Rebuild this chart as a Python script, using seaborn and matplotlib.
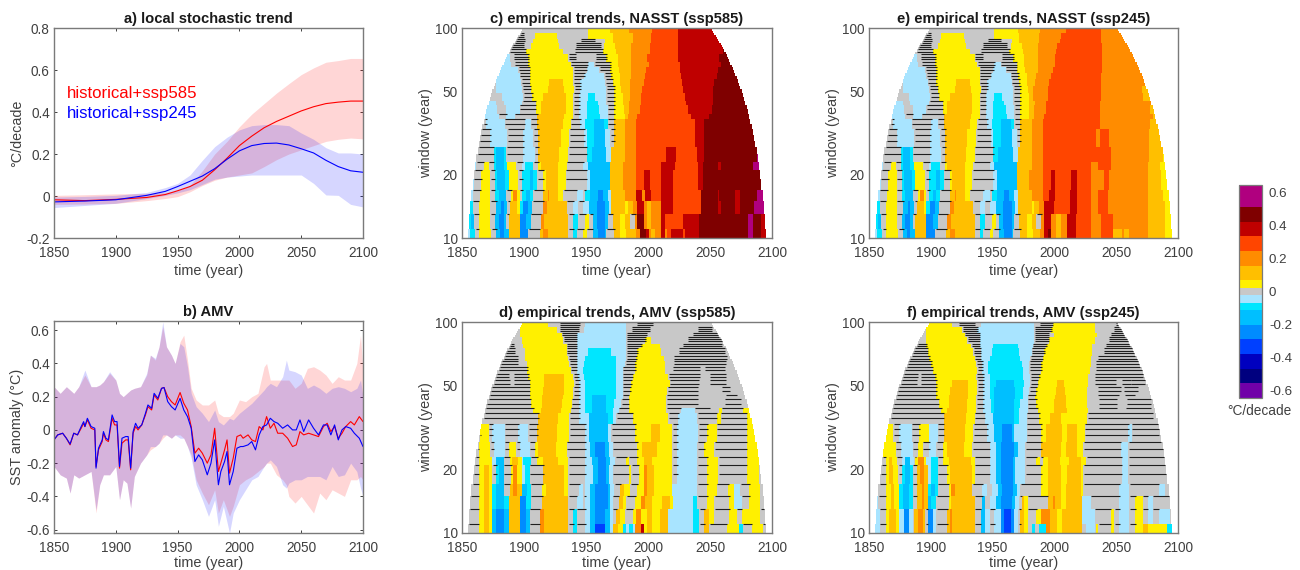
import numpy as np
import matplotlib
matplotlib.use("Agg")
import matplotlib.pyplot as plt
import matplotlib.ticker as mticker
from matplotlib.colors import BoundaryNorm, ListedColormap
import seaborn as sns

# panel a: local stochastic trend
trend_years = [1850, 1875, 1900, 1925, 1940, 1950, 1960, 1970, 1980, 1990, 2000, 2010, 2020, 2030, 2040, 2050, 2060, 2070, 2080, 2090, 2100]
trend_585 = [-0.018, -0.022, -0.016, -0.007, 0.007, 0.025, 0.045, 0.075, 0.125, 0.18, 0.24, 0.285, 0.325, 0.355, 0.38, 0.405, 0.425, 0.44, 0.447, 0.452, 0.452]
trend_245 = [-0.028, -0.024, -0.018, 0.003, 0.022, 0.045, 0.07, 0.095, 0.13, 0.175, 0.215, 0.24, 0.25, 0.252, 0.243, 0.225, 0.205, 0.17, 0.14, 0.12, 0.113]
trend_585_hi = [0.003, 0.006, 0.01, 0.012, 0.016, 0.025, 0.05, 0.12, 0.2, 0.26, 0.33, 0.39, 0.44, 0.49, 0.535, 0.578, 0.61, 0.637, 0.645, 0.655, 0.655]
trend_585_lo = [-0.04, -0.038, -0.035, -0.022, -0.012, -0.003, 0.02, 0.05, 0.075, 0.09, 0.1, 0.11, 0.14, 0.173, 0.2, 0.22, 0.24, 0.26, 0.27, 0.276, 0.272]
trend_245_hi = [-0.005, -0.002, 0.003, 0.017, 0.04, 0.06, 0.1, 0.17, 0.235, 0.28, 0.315, 0.335, 0.34, 0.34, 0.335, 0.3, 0.27, 0.23, 0.205, 0.205, 0.2]
trend_245_lo = [-0.055, -0.045, -0.035, -0.012, 0.003, 0.015, 0.03, 0.055, 0.08, 0.09, 0.095, 0.1, 0.1, 0.1, 0.1, 0.1, 0.06, 0.005, 0.003, -0.04, -0.052]

# panel b: AMV means
amv_years = [1850, 1853, 1857, 1860, 1863, 1866, 1869, 1872, 1874, 1875, 1877, 1880, 1883, 1884, 1886, 1889, 1890, 1892, 1894, 1897, 1899, 1901, 1903, 1905, 1908, 1910, 1912, 1914, 1916, 1918, 1921, 1924, 1926, 1929, 1931, 1934, 1937, 1939, 1942, 1945, 1948, 1952, 1955, 1958, 1961, 1964, 1967, 1970, 1974, 1977, 1980, 1983, 1985, 1988, 1990, 1992, 1995, 1998, 2001, 2003, 2007, 2010, 2013, 2016, 2019, 2022, 2025, 2028, 2031, 2035, 2039, 2043, 2046, 2049, 2052, 2056, 2060, 2064, 2068, 2071, 2074, 2077, 2080, 2083, 2086, 2090, 2093, 2097, 2100]
amv_585 = [-0.06, -0.03, -0.02, -0.05, -0.09, -0.02, -0.03, 0.01, 0.04, 0.02, 0.06, 0.01, 0.0, -0.22, -0.12, -0.07, -0.02, -0.06, -0.07, 0.07, 0.03, 0.03, -0.23, -0.08, -0.06, -0.06, -0.24, -0.02, 0.02, 0.0, 0.03, 0.09, 0.14, 0.12, 0.21, 0.18, 0.25, 0.255, 0.2, 0.17, 0.15, 0.225, 0.16, 0.12, 0.02, -0.14, -0.11, -0.14, -0.2, -0.15, 0.01, -0.25, -0.2, -0.12, -0.06, -0.26, -0.17, -0.04, -0.03, -0.05, -0.03, -0.06, -0.07, 0.02, 0.0, 0.08, 0.01, 0.04, -0.02, -0.02, -0.05, -0.1, -0.09, -0.01, -0.03, -0.02, -0.03, -0.04, 0.02, 0.04, -0.01, 0.02, -0.05, -0.02, 0.02, 0.05, 0.03, 0.08, 0.05]
amv_245 = [-0.06, -0.03, -0.02, -0.05, -0.085, -0.02, -0.03, 0.02, 0.05, 0.02, 0.07, 0.02, 0.01, -0.23, -0.11, -0.06, -0.01, -0.05, -0.06, 0.09, 0.05, 0.05, -0.22, -0.05, -0.04, -0.04, -0.23, -0.01, 0.04, 0.01, 0.03, 0.1, 0.15, 0.13, 0.22, 0.19, 0.25, 0.255, 0.17, 0.14, 0.12, 0.19, 0.12, 0.08, 0.01, -0.19, -0.15, -0.18, -0.27, -0.2, -0.06, -0.33, -0.25, -0.19, -0.13, -0.33, -0.25, -0.11, -0.1, -0.1, -0.09, -0.07, -0.12, -0.03, 0.02, 0.03, 0.07, 0.05, 0.04, 0.01, 0.03, 0.0, 0.0, 0.06, -0.01, 0.06, 0.01, -0.03, 0.03, 0.03, -0.03, 0.03, -0.06, 0.0, 0.02, 0.01, -0.02, -0.05, -0.1]

# panel b: AMV spread
spread_years = [1850, 1855, 1860, 1863, 1866, 1870, 1875, 1880, 1884, 1887, 1890, 1895, 1900, 1903, 1906, 1909, 1912, 1915, 1920, 1925, 1928, 1932, 1935, 1938, 1941, 1945, 1948, 1952, 1955, 1958, 1961, 1965, 1970, 1975, 1980, 1983, 1987, 1992, 1995, 2000, 2005, 2010, 2015, 2020, 2022, 2025, 2030, 2035, 2038, 2040, 2045, 2050, 2055, 2060, 2065, 2070, 2075, 2080, 2085, 2090, 2095, 2098, 2100]
spread_585_hi = [0.26, 0.22, 0.26, 0.24, 0.22, 0.26, 0.33, 0.26, 0.26, 0.27, 0.29, 0.34, 0.3, 0.22, 0.2, 0.22, 0.24, 0.25, 0.26, 0.33, 0.45, 0.42, 0.5, 0.62, 0.5, 0.45, 0.4, 0.53, 0.57, 0.42, 0.25, 0.18, 0.15, 0.15, 0.18, 0.1, 0.08, 0.08, 0.1, 0.18, 0.17, 0.2, 0.22, 0.38, 0.4, 0.3, 0.3, 0.3, 0.3, 0.3, 0.25, 0.28, 0.37, 0.38, 0.36, 0.33, 0.28, 0.32, 0.3, 0.3, 0.4, 0.57, 0.35]
spread_585_lo = [-0.22, -0.27, -0.29, -0.38, -0.27, -0.29, -0.27, -0.25, -0.5, -0.33, -0.27, -0.27, -0.22, -0.42, -0.3, -0.32, -0.47, -0.28, -0.2, -0.15, -0.12, -0.1, -0.08, -0.05, -0.03, -0.05, -0.03, -0.03, -0.05, -0.1, -0.15, -0.3, -0.38, -0.45, -0.36, -0.5, -0.42, -0.52, -0.46, -0.33, -0.3, -0.28, -0.25, -0.22, -0.2, -0.2, -0.27, -0.3, -0.33, -0.4, -0.44, -0.4, -0.45, -0.5, -0.38, -0.42, -0.36, -0.38, -0.4, -0.3, -0.3, -0.28, -0.3]
spread_245_hi = [0.26, 0.22, 0.26, 0.24, 0.22, 0.26, 0.36, 0.26, 0.26, 0.27, 0.29, 0.35, 0.3, 0.22, 0.2, 0.22, 0.24, 0.25, 0.26, 0.34, 0.45, 0.43, 0.5, 0.65, 0.5, 0.45, 0.4, 0.52, 0.5, 0.38, 0.22, 0.14, 0.1, 0.05, 0.12, 0.05, 0.03, 0.07, 0.06, 0.1, 0.13, 0.16, 0.2, 0.24, 0.26, 0.28, 0.26, 0.32, 0.42, 0.36, 0.35, 0.33, 0.25, 0.27, 0.25, 0.22, 0.25, 0.26, 0.25, 0.23, 0.25, 0.3, 0.2]
spread_245_lo = [-0.22, -0.27, -0.29, -0.38, -0.27, -0.29, -0.27, -0.25, -0.48, -0.33, -0.27, -0.27, -0.22, -0.42, -0.3, -0.32, -0.47, -0.28, -0.2, -0.15, -0.1, -0.1, -0.08, -0.03, -0.03, -0.05, -0.03, -0.05, -0.05, -0.1, -0.17, -0.33, -0.42, -0.52, -0.42, -0.58, -0.46, -0.62, -0.5, -0.42, -0.36, -0.3, -0.28, -0.22, -0.2, -0.18, -0.22, -0.33, -0.35, -0.32, -0.3, -0.3, -0.28, -0.28, -0.28, -0.3, -0.22, -0.28, -0.27, -0.2, -0.25, -0.35, -0.4]

# colour levels
level_edges = [-0.644, -0.556, -0.467, -0.378, -0.289, -0.2, -0.111, -0.067, -0.022, 0.022, 0.067, 0.156, 0.244, 0.333, 0.422, 0.511, 0.644]
level_colors = ["#7000A8", "#00007F", "#0000BF", "#0040FF", "#008CFF", "#00BFFF", "#00E6FF", "#A8E4FF",
                "#C8C8C8", "#FFF000", "#FFBF00", "#FF8C00", "#FF4500", "#BF0000", "#7F0000", "#B0007F"]
level_codes = "pNnbzscl" + "gyaorRDM"
level_values = [-0.6, -0.51, -0.42, -0.33, -0.245, -0.155, -0.09, -0.045, 0.0, 0.045, 0.11, 0.2, 0.29, 0.38, 0.465, 0.58]

# each row holds runs of level code + end year, * = not significant, and
# applies from its window length up to the next one
row_windows = [10, 12, 14, 16, 18, 21, 24, 28, 33, 37, 40, 43, 46, 50, 53, 57, 61, 65, 70, 75, 80, 85, 90, 95]

nasst_585 = [
    "l1857 c1861 g1864* y1874 g1878* s1881 z1884 s1888 a1897 z1904 g1913* a1916 o1920 a1936 g1940* c1943 g1948* y1951 g1956* s1960 z1966 s1967 g1973* a1978 y1983 a1991 o1994 D1999 R2001 o2003 a2006 o2011 R2014 o2016 r2019 R2029 r2030 R2042 D2081 M2085 D2092 R2100",
    "c1858 s1860 g1864* y1873 g1877* s1880 z1884 s1886 g1888* a1897 z1902 s1906 g1914* o1917 a1936 g1940* c1944 g1950* y1953 g1956* s1959 z1966 s1968 g1972* a1978 y1982 a1986 g1990* o1992 D1997 o2000 a2003 o2011 R2014 r2029 R2042 D2081 M2085 D2092 R2100",
    "c1859 g1864* y1873 g1878* s1882 z1884 s1887 g1889* a1895 y1897 c1900 z1904 s1907 g1916* o1919 a1935 g1940* l1944 g1948* l1953 s1959 z1966 s1969 l1971 a1982 y1984 a1988 o1992 R1997 o2000 a2003 o2011 R2021 r2043 D2057 R2059 D2071 R2075 D2086 M2094 D2100",
    "l1859 g1865* y1873 g1877* c1880 s1886 g1890* y1892 o1895 y1897 g1899* c1902 s1905 c1908 g1916* a1920 o1921 a1928 y1932 g1943* l1948 g1950* c1954 s1960 z1964 s1968 l1971 a1982 o1991 R1996 o1998 R2003 r2011 R2021 r2043 D2057 R2058 D2071 R2075 D2088 M2094 D2100",
    "l1860 g1866* y1873 g1877* c1879 s1885 c1888 y1896 g1899* c1905 s1908 c1911 g1916* y1918 a1928 y1934 g1951* l1954 s1970 a1980 o1991 r1997 R2002 r2011 R2021 r2041 R2045 D2092 M2094 D2100",
    "l1862 g1868* y1872 g1876* c1878 s1884 c1887 y1894 g1899* l1901 c1908 g1912* y1914 a1928 y1935 g1948* l1952 s1970 a1980 o1991 r2011 R2022 r2041 R2045 D2057 R2059 D2085 M2090 D2100",
    "g1876* c1878 s1884 c1886 g1900* l1909 g1912* a1929 y1936 g1951* c1955 s1967 l1971 a1982 o1991 r2015 R2023 r2040 R2046 D2088 M2090 D2100",
    "g1873* l1887 g1900* l1908 g1912* a1930 y1937 g1949* l1951 c1957 s1966 l1970 g1973* a1982 o1991 r2038 R2046 D2100",
    "g1870* l1885 g1901* l1906 g1911* a1932 y1938 g1946* l1950 c1957 s1965 c1968 g1973* a1982 o1991 r2038 R2046 D2100",
    "l1880 g1886* l1893 g1911* a1933 y1940 g1945* l1951 c1962 l1968 g1973* y1982 a1984 o1992 r2035 R2050 D2100",
    "l1879 g1886 l1897 g1910* y1914 a1934 y1940 g1945* l1951 c1961 l1968 g1973* y1981 a1985 o1994 r2033 R2052 D2100",
    "l1878 g1884 l1899 g1910* y1914 a1934 y1940 g1945* l1951 c1960 l1967 g1973* y1980 a1985 o1995 r2031 R2053 D2100",
    "l1873 g1883 l1900 g1907* y1916 a1934 y1940 g1945* l1952 c1958 l1967 g1973* y1980 a1986 o1995 r2030 R2053 D2100",
    "g1878 l1899 g1906* y1920 a1933 y1941 g1946* l1967 g1973* y1979 a1986 o1996 r2029 R2053 D2100",
    "g1878 l1898 g1905* y1921 a1932 y1940 g1946* l1966 g1972* y1978 a1986 o1997 r2028 R2054 D2100",
    "l1897 g1905* y1940 g1949* l1965 g1971* y1978 a1987 o1998 r2027 R2056 D2100",
    "l1896 g1905* y1940 g1951* l1961 g1970* y1977 a1987 o1999 r2026 R2057 D2100",
    "l1890 g1893 g1904* y1938 g1952* l1957 g1970* y1976 a1987 o2001 r2026 R2059 D2100",
    "l1889 g1892 g1904* y1936 g1942* g1958 g1967* y1976 a1987 o2000 r2025 R2058 D2100",
    "g1902* y1932 g1941 g1964* y1975 a1987 o2002 r2025 R2061 D2100",
    "g1900* g1906 y1929 g1942 g1962* g1965 y1974 a1987 o2002 r2025 R2100",
    "g1901* g1908 y1928 g1946 g1957* g1966 y1972 a1988 o2003 r2025 R2100",
    "g1900* g1909 y1927 g1952 y1972 a1988 o2003 r2025 R2100",
    "g1952 y1970 a1985 o2004 r2025 R2100",
]

amv_emp_585 = [
    "l1855 g1864* y1868 a1872 y1875 s1878 z1884 s1888 a1897 z1902 s1905 g1913* o1917 a1936 g1940* c1943 g1950* l1954 s1958 b1966 s1970 l1972 a1976 y1980 c1983 l1985 c1988 l1990 o1995 R1997 y2000 a2004 y2010 a2017 l2037 c2042 g2046* a2050 g2064* y2074 c2077 g2084* y2093 g2100*",
    "l1856 g1864* y1868 a1872 y1875 s1878 z1884 s1888 a1897 z1902 s1905 g1913* o1917 a1936 g1940* c1943 g1950* l1954 s1958 z1966 s1970 l1972 g1975* a1978 y1982 g1988* y1991 o1995 y2000 a2004 y2010 a2017 l2037 c2042 g2046* a2050 y2054 g2066* y2072 g2076* y2091 g2100*",
    "l1856 g1864* y1868 a1872 y1875 c1878 s1884 c1888 a1897 z1902 c1906 g1915* a1936 g1943* l1948 g1950* l1954 s1958 z1968 s1970 l1972 g1977* a1980 y1983 g1990* y1995 o1998 a2004 y2012 a2018 y2021 l2037 c2040 g2048* y2054 g2066* y2070 l2076 g2082* y2091 g2100",
    "l1857 g1864* y1868 a1872 y1875 c1878 s1884 g1889* a1892 o1895 a1899 s1903 c1906 g1915* y1918 a1933 y1936 g1945* l1948 g1950 l1954 s1958 z1968 s1970 l1973 g1978* a1981 y1986 g1992* y1997 o2000 a2005 y2020 l2040 g2048* y2056 g2065* y2070 l2075 g2082* y2091 g2100",
    "g1864* y1868 a1872 y1875 g1878* c1880 s1884 g1890* y1892 o1895 y1899 l1901 c1905 g1916* a1933 y1936 g1950* l1956 s1960 z1967 s1969 l1972 g1985* y1987 g1993* y1997 o2000 a2005 y2020 g2024* l2040 g2048* y2057 g2080* y2090 g2100",
    "g1864* y1875 l1878 s1884 g1889* y1891 a1896 y1899 l1900 c1906 g1911* y1916 a1928 y1936 g1950* l1955 s1960 z1967 s1970 l1974 g1983* y1985 g1992* y1997 a2004 y2020 g2024* l2040 g2048* y2057 g2080* y2090 g2100",
    "g1864* y1873 g1876* l1885 g1888* y1894 g1897* l1905 g1909* y1912 a1926 y1935 g1950* l1954 s1958 z1966 s1969 l1972 g1992* y1996 a2008 y2020 g2024* l2040 g2046* y2054 g2080* y2089 g2100",
    "g1865* y1872 g1875* l1885 g1896* l1904 g1911* a1927 y1937 g1950* l1953 s1968 l1971 g1990* y2003 a2010 y2020 g2024* l2041 g2048* y2056 g2080* y2088 g2100",
    "g1912* a1928 y1937 g1945* l1953 s1968 c1972 l1975 g1988* y2017 g2025* l2040 g2056* y2059 g2080* y2086 g2100",
    "g1908* y1914 a1930 y1938 g1945* l1950 c1955 s1967 c1972 l1977 g1985* y2015 g2027* l2038 g2050* g2058 y2060 g2077* y2083 g2100",
    "g1906* y1915 a1931 y1939 g1945* l1950 c1955 s1967 c1973 l1979 g1985* y2015 g2040* g2062 g2075* g2100",
    "g1905* y1915 a1932 y1940 g1945* l1950 c1955 s1967 c1975 l1980 g1985* y2015 g2040* g2063 g2072* g2100",
    "g1905* y1916 a1933 y1940 g1945* l1950 c1975 l1980 g1986* y2016 g2040* g2060 g2066* g2100",
    "g1889* g1892 g1905* y1917 a1933 y1941 g1945* l1950 c1975 l1980 g1987* y2018 g2041* g2050 g2063* g2100",
    "g1888* g1892 g1904* y1917 a1933 y1940 g1944* l1949 c1975 l1980 g1988* y2017 g2042* g2050 g2063* g2100",
    "g1878* g1903* y1938 g1943* l1948 c1975 l1980 g1990* y2014 g2020 g2042* g2046 g2062* g2100",
    "g1895* g1903 y1937 g1943* l1949 c1975 l1982 g1990* y2014 g2021 g2063* g2100",
    "g1895* g1901 y1936 g1943* l1950 c1975 l1983 g1991* y2013 g2021 g2064* g2100",
    "g1893* g1901 y1935 g1943* l1952 c1971 l1983 g1992* y2011 g2025 g2062* g2100",
    "g1892* g1900 y1935 g1943* l1983 g1995* y2010 g2028 g2060* g2100",
    "g1890* g1899 y1932 g1943* l1983 g1998* y2003 g2032 g2060* g2100",
    "g1897 y1931 g1943* l1983 g1999* g2036 g2058* g2100",
    "g1897 y1927 g1929 g1944* g1949 l1983 g1987 g2002* g2040 g2052* g2100",
    "y1920 g1929 g1945* g1950 l1983 g1991 g2004* g2100",
]

nasst_245 = [
    "l1857 c1861 g1864* y1874 g1878* s1881 z1884 s1888 a1897 z1904 g1913* a1916 o1920 a1936 g1940* c1943 g1948* y1951 g1956* s1960 z1966 s1967 g1973* a1978 y1983 a1989 o1992 R1995 D1998 o2002 a2006 o2011 R2018 r2030 o2038 r2048 a2055 o2057 a2061 o2076 a2090 y2100",
    "c1858 s1860 g1864* y1873 g1877* s1880 z1884 s1886 g1888* a1897 z1902 s1906 g1914* o1917 a1936 g1940* c1944 g1950* y1953 g1956* s1959 z1966 s1968 g1972* a1978 y1982 a1986 g1990* o1992 R1998 o2002 a2006 o2011 R2018 r2030 o2038 r2048 o2076 a2090 y2100",
    "c1859 g1864* y1873 g1878* s1882 z1884 s1887 g1889* a1895 y1897 c1900 z1904 s1907 g1916* o1919 a1935 g1940* l1944 g1948* l1953 s1959 z1966 s1969 l1971 a1982 y1984 a1988 o1992 R2000 r2013 R2019 r2030 o2036 r2044 o2076 a2090 y2100",
    "l1859 g1865* y1873 g1877* c1880 s1886 g1890* y1892 o1895 y1897 g1899* c1902 s1905 c1908 g1916* a1920 o1921 a1928 y1932 g1943* l1948 g1950* c1954 s1960 z1964 s1968 l1971 a1982 o1991 r1996 R2001 r2013 R2019 r2030 o2036 r2044 o2076 a2088 y2100",
    "l1860 g1866* y1873 g1877* c1879 s1885 c1888 y1896 g1899* c1905 s1908 c1911 g1916* y1918 a1928 y1934 g1951* l1954 s1970 a1980 o1991 r1998 R2001 r2014 R2019 r2030 o2041 r2045 o2076 a2087 y2100",
    "l1862 g1868* y1872 g1876* c1878 s1884 c1887 y1894 g1899* l1901 c1908 g1912* y1914 a1928 y1935 g1948* l1952 s1970 a1982 o1991 r2030 o2036 r2046 o2076 a2086 y2100",
    "g1876* c1878 s1884 c1886 g1900* l1909 g1912* a1929 y1936 g1951* c1955 s1967 l1971 a1982 o1991 r2037 r2046 o2077 a2088 y2100",
    "g1873* l1887 g1900* l1908 g1912* a1930 y1937 g1949* l1951 c1957 s1966 l1970 g1973* a1982 o1991 r2034 o2037 r2045 o2077 a2100",
    "g1870* l1885 g1901* l1906 g1911* a1932 y1938 g1946* l1950 c1957 s1965 c1968 g1973* a1982 o1991 r2037 o2078 a2100",
    "l1880 g1886* l1893 g1911* a1933 y1940 g1945* l1951 c1962 l1968 g1973* y1980 a1984 o1992 r2037 o2080 a2100",
    "l1879 g1886 l1897 g1910* y1914 a1934 y1940 g1945* l1951 c1961 l1968 g1973* y1980 a1984 o1994 r2037 o2078 a2100",
    "l1878 g1884 l1899 g1910* y1914 a1934 y1940 g1945* l1951 c1960 l1967 g1973* y1980 a1985 o1994 r2037 o2100",
    "l1873 g1883 l1900 g1907* y1916 a1934 y1940 g1945* l1952 c1958 l1967 g1973* y1980 a1983 o1995 r2038 o2072 a2100",
    "g1878 l1899 g1906* y1920 a1933 y1941 g1946* l1967 g1973* y1979 a1983 o1995 r2038 o2071 a2100",
    "g1878 l1898 g1905* y1921 a1932 y1940 g1946* l1966 g1972* y1978 a1985 o1996 r2038 o2100",
    "l1897 g1905* y1940 g1949* l1965 g1971* y1978 a1986 o1998 r2038 o2100",
    "l1896 g1905* y1940 g1951* l1961 g1970* y1977 a1987 o1999 r2039 o2100",
    "l1890 g1893 g1904* y1938 g1952* l1957 g1970* y1976 a1987 o2001 r2039 o2100",
    "l1889 g1892 g1904* y1936 g1942* g1958 g1967* y1976 a1987 o2001 r2039 o2100",
    "g1902* y1932 g1941 g1964* y1975 a1987 o2002 r2039 o2100",
    "g1900* g1906 y1929 g1942 g1962* g1965 y1974 a1987 o2003 r2039 o2100",
    "g1901* g1908 y1928 g1946 g1957* g1966 y1972 a1988 o2005 r2038 o2100",
    "g1900* g1909 y1927 g1952 y1972 a1988 o2006 r2038 o2100",
    "g1952 y1971 a1989 o2010 r2038 o2100",
]

amv_emp_245 = [
    "l1859 g1864* y1867 a1872 y1875 l1879 z1883 l1886 g1887 a1890 o1894 a1896 g1898* z1902 l1905 g1914* a1916 o1918 a1936 g1941* s1944 l1948 g1952* l1957 z1960 b1965 z1968 l1971 g1973* a1976 y1979 g1982 c1985 g1988 c1994 o1997 a2003 y2007 a2023 g2026 l2033 g2034 y2036 g2046* y2049 g2053* l2061 g2066* y2072 a2076 y2092 c2100",
    "l1859 g1864* y1867 a1872 y1875 l1879 z1883 l1886 g1887 a1890 o1894 a1896 g1898* z1902 l1905 g1914* a1916 o1918 a1936 g1941* s1944 l1948 g1952* l1957 z1960 b1965 z1968 l1971 g1973* a1976 y1979 g1986* y1990 o1997 a2003 y2007 a2023 l2033 g2046* y2049 g2053* l2061 g2066* y2072 g2076* l2080 g2085* l2094 g2100",
    "l1858 g1864* y1868 a1871 y1875 c1878 s1883 c1886 g1889* a1893 o1895 a1898 s1901 c1905 g1915* y1917 a1936 g1942* s1944 g1948 l1953 s1957 z1966 s1969 l1972 g1974* a1976 y1979 g1995* a1999 o2001 a2006 y2010 a2023 l2030 g2053* l2061 g2066* y2072 g2076* l2080 g2094* g2100",
    "l1858 g1864* y1868 a1871 y1875 c1878 s1883 c1886 g1889* a1893 o1895 a1898 c1901 s1904 c1906 g1915* y1917 o1920 a1934 g1942* l1946 g1950 l1955 s1958 z1967 s1970 l1973 g1990* y1995 a2006 y2010 a2022 y2024 g2053* l2061 g2085* l2090 g2100",
    "g1864* y1867 a1870 y1874 g1877* c1880 s1884 c1886 g1889* a1892 o1895 a1898 l1901 c1906 g1914* y1916 a1934 y1936 g1948* l1953 s1957 z1967 s1969 l1977 g1990* y1995 a2006 y2011 a2022 y2024 g2055* l2060 g2092* g2100",
    "g1864* y1867 a1869 y1873 g1877* l1880 s1884 l1887 g1888* y1890 o1895 y1897 l1901 c1906 g1910* y1915 a1933 y1936 g1948* l1953 s1957 z1967 s1969 l1977 g1986* y1989 g1991* y1995 a2005 y2012 a2022 y2026 g2055* l2060 g2092* l2094 g2100",
    "g1862* y1872 g1876* l1886 g1890* y1894 g1899* l1905 g1910* y1914 a1927 y1934 g1948* l1953 s1957 z1968 s1971 l1977 g1990* a2006 y2010 a2019 y2024 g2054* l2060 g2092* g2100",
    "g1862 y1870 g1875* l1885 g1891* y1899 l1906 g1911* a1928 y1935 g1946* l1952 s1958 z1966 s1968 l1978 g1990* y1994 a2007 y2011 a2019 y2025 g2060* l2063 g2085* g2100",
    "g1864 y1867 g1911* a1929 y1936 g1944* l1951 s1968 c1972 l1978 g1988* y1997 a2006 y2027 g2080* g2100",
    "g1909* y1914 a1930 y1937 g1943* l1949 c1952 s1968 c1972 l1979 g1987* y2000 a2011 y2028 g2036 g2051* g2058 g2078* g2100",
    "g1907* y1915 a1930 y1937 g1943* l1949 c1952 s1968 c1973 l1979 g1986* y2000 a2010 y2027 g2036 g2051* g2059 g2078* g2100",
    "g1905* y1915 a1931 y1937 g1943* l1948 c1952 s1969 c1975 l1979 g1985* y2001 a2010 y2027 g2035 g2052* g2057 g2065* g2080 g2100",
    "g1905* y1916 a1931 y1938 g1943* l1948 c1952 s1969 c1975 l1980 g1986* y2002 a2009 y2027 g2035 g2054* g2056 g2068* g2100",
    "g1889* g1892 g1905* y1918 a1931 y1938 g1943* l1948 c1953 s1968 c1976 l1981 g1987* y2003 a2008 y2028 g2033 g2050* g2055 g2062* g2073* g2100",
    "g1890* g1892 g1904* y1937 g1943* l1948 c1975 l1981 g1988* y2028 g2033 g2072* g2100",
    "g1902* y1938 g1942* l1947 c1975 l1980 g1990* y2029 g2034 g2072* g2100",
    "g1901* y1937 g1942* l1947 c1974 l1980 g1990* y2030 g2034 g2072* g2100",
    "g1899* y1936 g1941* l1948 c1973 l1981 g1991* y2030 g2035 g2070* g2100",
    "g1898* y1935 g1941* l1950 c1972 l1982 g1992* y2031 g2040 g2064* g2100",
    "g1897* y1933 g1940* l1951 c1971 l1983 g1994* y2031 g2042 g2062* g2100",
    "g1897 y1930 g1940* l1984 g1996* y2033 g2044 g2060* g2100",
    "g1897 y1928 g1940* l1984 g1996* g2000 y2035 g2046 g2058* g2100",
    "g1897 y1926 g1938* l1984 g1998* y2033 g2048 g2056* g2100",
    "y1918 g1923 g1936* g1941 l1984 g1988 g1999* y2033 g2050 g2056* g2100",
]

sns.set_theme(style="ticks")
plt.rcParams.update({
    "font.family": ["Liberation Sans", "DejaVu Sans"],
    "font.size": 9.5,
    "text.color": "#262626",
    "axes.labelcolor": "#404040",
    "axes.edgecolor": "#7a7a7a",
    "axes.linewidth": 1.0,
    "xtick.color": "#404040",
    "ytick.color": "#404040",
    "xtick.direction": "in",
    "ytick.direction": "in",
    "xtick.top": True,
    "ytick.right": True,
    "xtick.major.size": 2.5,
    "ytick.major.size": 2.5,
    "xtick.major.width": 0.7,
    "ytick.major.width": 0.7,
    "xtick.minor.size": 0,
    "ytick.minor.size": 0,
})

FIG_W, FIG_H = 1300, 570
RED, BLUE = "#FF0000", "#0000FF"
YEAR_TICKS = [1850, 1900, 1950, 2000, 2050, 2100]


def add_axes_px(fig, left, top, right, bottom):
    return fig.add_axes([left / FIG_W, 1 - bottom / FIG_H, (right - left) / FIG_W, (bottom - top) / FIG_H])


def finish_time_axis(ax, title, ylabel, xlabel_pad=3):
    ax.set_xlim(1850, 2100)
    ax.set_xticks(YEAR_TICKS)
    ax.tick_params(axis="both", labelsize=9.8, pad=3)
    ax.tick_params(axis="x", pad=6)
    ax.set_xlabel("time (year)", fontsize=10.4, labelpad=xlabel_pad)
    ax.set_ylabel(ylabel, fontsize=10.4, labelpad=2)
    ax.set_title(title, fontsize=10.6, fontweight="bold", pad=3.5, color="#1a1a1a")


def rows_to_grid(rows):
    """Expand the run strings to a (window, year) grid plus the stippled spans."""
    years = np.arange(1850, 2101)
    windows = np.arange(10, 102, 2)
    grid = np.full((len(windows), len(years)), np.nan)
    spans = []
    for i, w in enumerate(windows):
        row = rows[np.searchsorted(row_windows, w, side="right") - 1]
        t0 = 1850
        for tok in row.split():
            code, end = tok[0], int(tok[1:5])
            val = level_values[level_codes.index(code)]
            mask = (years >= t0) & (years < end)
            grid[i, mask] = val
            if tok.endswith("*"):
                spans.append((w + 1, t0, end))
            t0 = end
        grid[i, years == 2100] = grid[i, years == 2099]
        # a centred window only exists half a window away from the ends
        grid[i, (years < 1850 + w / 2) | (years > 2100 - w / 2)] = np.nan
    return years, windows, grid, spans


cmap = ListedColormap(level_colors)
cmap.set_bad("white")
norm = BoundaryNorm(level_edges, cmap.N)


def draw_empirical(ax, rows, title, xlabel_pad=3):
    years, windows, grid, spans = rows_to_grid(rows)
    x_edges = np.append(years - 0.5, years[-1] + 0.5)
    y_edges = np.append(windows - 1, windows[-1] + 1)
    mesh = ax.pcolormesh(x_edges, y_edges, np.ma.masked_invalid(grid), cmap=cmap, norm=norm, rasterized=True)
    for w, t0, end in spans:
        lo = max(t0, 1850 + w / 2)
        hi = min(end, 2100 - w / 2)
        if hi > lo:
            ax.hlines(w, lo, hi, color="#1f1f1f", linewidth=0.8)
    ax.set_yscale("log")
    ax.set_ylim(10, 100)
    ax.set_yticks([10, 20, 50, 100])
    ax.yaxis.set_major_formatter(mticker.FormatStrFormatter("%d"))
    ax.yaxis.set_minor_locator(mticker.NullLocator())
    finish_time_axis(ax, title, "window (year)", xlabel_pad)
    return mesh


fig = plt.figure(figsize=(FIG_W / 100, FIG_H / 100), dpi=100, facecolor="white")

ax_a = add_axes_px(fig, 54, 28, 363, 238)
ax_a.fill_between(trend_years, trend_585_lo, trend_585_hi, color=RED, alpha=0.16, linewidth=0)
ax_a.fill_between(trend_years, trend_245_lo, trend_245_hi, color=BLUE, alpha=0.16, linewidth=0)
sns.lineplot(x=trend_years, y=trend_585, color=RED, linewidth=0.8, ax=ax_a)
sns.lineplot(x=trend_years, y=trend_245, color=BLUE, linewidth=0.8, ax=ax_a)
ax_a.set_ylim(-0.2, 0.8)
ax_a.set_yticks([-0.2, 0, 0.2, 0.4, 0.6, 0.8], ["-0.2", "0", "0.2", "0.4", "0.6", "0.8"])
ax_a.text(0.042, 0.69, "historical+ssp585", color=RED, fontsize=12.1, transform=ax_a.transAxes, va="center")
ax_a.text(0.042, 0.595, "historical+ssp245", color=BLUE, fontsize=12.1, transform=ax_a.transAxes, va="center")
finish_time_axis(ax_a, "a) local stochastic trend", "°C/decade")

ax_b = add_axes_px(fig, 54, 321, 363, 533)
ax_b.fill_between(spread_years, spread_585_lo, spread_585_hi, color=RED, alpha=0.16, linewidth=0)
ax_b.fill_between(spread_years, spread_245_lo, spread_245_hi, color=BLUE, alpha=0.16, linewidth=0)
sns.lineplot(x=amv_years, y=amv_585, color=RED, linewidth=0.8, ax=ax_b)
sns.lineplot(x=amv_years, y=amv_245, color=BLUE, linewidth=0.8, ax=ax_b)
ax_b.set_ylim(-0.62, 0.655)
ax_b.set_yticks([-0.6, -0.4, -0.2, 0, 0.2, 0.4, 0.6], ["-0.6", "-0.4", "-0.2", "0", "0.2", "0.4", "0.6"])
finish_time_axis(ax_b, "b) AMV", "SST anomaly (°C)", xlabel_pad=0.5)

mesh = draw_empirical(add_axes_px(fig, 462, 28, 772, 238), nasst_585, "c) empirical trends, NASST (ssp585)")
draw_empirical(add_axes_px(fig, 462, 322, 772, 533), amv_emp_585, "d) empirical trends, AMV (ssp585)", xlabel_pad=0.5)
draw_empirical(add_axes_px(fig, 869, 28, 1178, 238), nasst_245, "e) empirical trends, NASST (ssp245)")
draw_empirical(add_axes_px(fig, 869, 322, 1178, 533), amv_emp_245, "f) empirical trends, AMV (ssp245)", xlabel_pad=0.5)

cax = add_axes_px(fig, 1239, 185, 1262, 398)
cbar = fig.colorbar(mesh, cax=cax, spacing="proportional", ticks=[-0.6, -0.4, -0.2, 0, 0.2, 0.4, 0.6])
cbar.ax.set_yticklabels(["-0.6", "-0.4", "-0.2", "0", "0.2", "0.4", "0.6"])
cbar.ax.tick_params(labelsize=9.6, direction="in", length=2, width=0.6, pad=5, right=True, left=False)
cbar.ax.minorticks_off()
cbar.outline.set_edgecolor("#7a7a7a")
cbar.outline.set_linewidth(0.9)
fig.text(1259 / FIG_W, 1 - 411 / FIG_H, "°C/decade", fontsize=9.8, color="#404040", ha="center", va="center")

fig.savefig("out.png", dpi=100, facecolor="white")
